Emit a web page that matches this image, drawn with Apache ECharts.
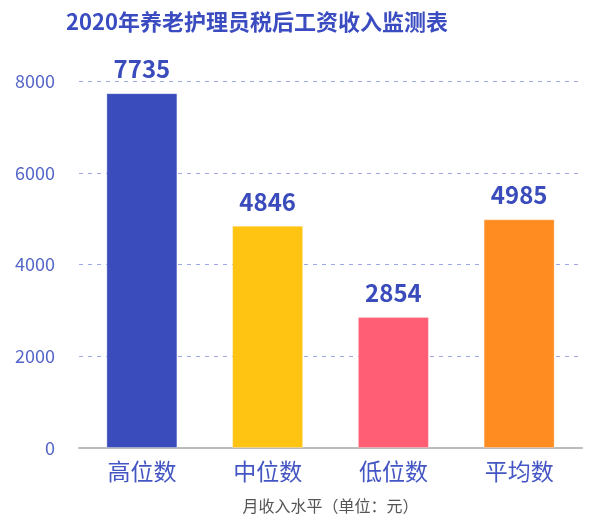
<!DOCTYPE html>
<html><head><meta charset="utf-8">
<script src="https://cdn.jsdelivr.net/npm/echarts@6/dist/echarts.min.js"></script>
<style>html,body{margin:0;padding:0;background:#fff}#c{width:602px;height:520px}</style>
</head><body><div id="c"></div>
<script>
const categories = ['高位数', '中位数', '低位数', '平均数'];
const values = [7735, 4846, 2854, 4985];
const barColors = ['#3a4cbc', '#ffc312', '#ff5e75', '#ff8c21'];
const chart = echarts.init(document.getElementById('c'));
const FF = '"Noto Sans CJK SC", "Noto Sans", sans-serif';
chart.setOption({
  animation: false,
  title: {
    text: '2020年养老护理员税后工资收入监测表',
    left: 61, top: 6,
    textStyle: { fontFamily: FF, fontSize: 22, fontWeight: 'bold', color: '#3b4cc0' }
  },
  grid: { left: 79, right: 20, top: 81, bottom: 72, outerBoundsMode: 'none', containLabel: false },
  xAxis: {
    type: 'category', data: categories,
    name: '月收入水平（单位：元）', nameLocation: 'middle', nameGap: 50,
    nameTextStyle: { fontFamily: FF, fontSize: 16, color: '#555' },
    axisLine: { lineStyle: { color: '#bbbbbb', width: 2 } },
    axisTick: { show: false },
    axisLabel: { fontFamily: FF, fontSize: 23, color: '#4456c4', margin: 12 }
  },
  yAxis: {
    type: 'value', min: 0, max: 8000, interval: 2000,
    axisLine: { show: false }, axisTick: { show: false },
    axisLabel: { fontFamily: FF, fontSize: 18, color: '#5566c8', margin: 24, formatter: v => String(v) },
    splitLine: { lineStyle: { type: [4, 5], color: '#9fa8e6', width: 1 } }
  },
  series: [{
    type: 'bar', barWidth: 71,
    data: values.map((v, i) => ({ value: v, itemStyle: { color: barColors[i] } })),
    itemStyle: { borderColor: 'rgba(255,255,255,0.3)', borderWidth: 1 },
    label: { show: true, position: 'top', distance: 12,
      fontFamily: FF, fontSize: 24, fontWeight: 'bold', color: '#3a4cbc' }
  }]
});
</script></body></html>
